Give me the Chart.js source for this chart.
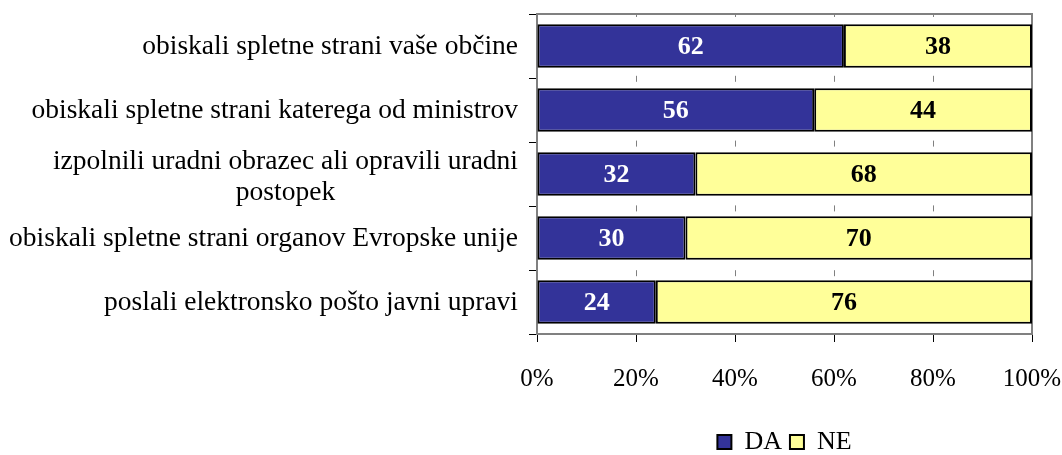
<!DOCTYPE html>
<html>
<head>
<meta charset="utf-8">
<script src="https://cdn.jsdelivr.net/npm/chart.js@4.4.1/dist/chart.umd.min.js"></script>
<style>
  html, body { margin: 0; padding: 0; background: #fff; }
  #wrap { width: 1062px; height: 455px; }
</style>
</head>
<body>
<div id="wrap"><canvas id="chart" width="1062" height="455"></canvas></div>
<script>
// podatki
var kategorije = [
  'obiskali spletne strani vaše občine',
  'obiskali spletne strani katerega od ministrov',
  ['izpolnili uradni obrazec ali opravili uradni', 'postopek'],
  'obiskali spletne strani organov Evropske unije',
  'poslali elektronsko pošto javni upravi'
]
var vrednostiDA = [62, 56, 32, 30, 24]
var vrednostiNE = [38, 44, 68, 70, 76]
var oznakeX = ['0%', '20%', '40%', '60%', '80%', '100%']

var pisava = "'Liberation Serif', 'Times New Roman', serif"
var siva = '#808080'

// napisi kategorij levo od osi (druga vrstica sredinsko)
var napisiY = {
  id: 'napisiY',
  afterDraw: function(chart){
    var c = chart.ctx
    var y = chart.scales.y
    c.save()
    c.font = '27.5px ' + pisava
    c.fillStyle = '#000'
    c.textBaseline = 'middle'
    c.textAlign = 'center'
    kategorije.forEach(function(lab, i){
      var vrstice = Array.isArray(lab) ? lab : [lab]
      var maxw = 0
      vrstice.forEach(function(v){ maxw = Math.max(maxw, c.measureText(v).width) })
      var cx = chart.chartArea.left - 19 - maxw / 2
      var cy = y.getPixelForValue(i) + 1
      var lh = 31
      var y0 = cy - (vrstice.length - 1) * lh / 2
      if (vrstice.length > 1) y0 += 2
      vrstice.forEach(function(v, k){ c.fillText(v, cx, y0 + k * lh) })
    })
    c.restore()
  }
}

// vrednosti na stolpcih + okvir
var vrednostiNaStolpcih = {
  id: 'vrednostiNaStolpcih',
  beforeDatasetsDraw: function(chart){
    var a = chart.chartArea
    var c = chart.ctx
    c.save()
    c.strokeStyle = siva
    c.lineWidth = 2
    c.beginPath()
    c.moveTo(a.left, a.top)
    c.lineTo(a.right, a.top)
    c.lineTo(a.right, a.bottom)
    c.stroke()
    c.restore()
  },
  afterDatasetsDraw: function(chart){
    var c = chart.ctx
    c.save()
    c.font = 'bold 26px ' + pisava
    c.textAlign = 'center'
    c.textBaseline = 'middle'
    chart.data.datasets.forEach(function(ds, di){
      var meta = chart.getDatasetMeta(di)
      meta.data.forEach(function(bar, i){
        c.fillStyle = di === 0 ? '#fff' : '#000'
        c.fillText(ds.data[i], (bar.x + bar.base) / 2, bar.y + 1)
      })
    })
    c.restore()
  }
}

var ctx = document.getElementById('chart')
var ReportChart = new Chart(ctx, {
  type: 'bar',
  data: {
    labels: kategorije,
    datasets: [
      { label: 'DA', data: vrednostiDA, backgroundColor: '#333399', borderColor: '#000', borderWidth: 2, borderSkipped: false },
      { label: 'NE', data: vrednostiNE, backgroundColor: '#FFFF99', borderColor: '#000', borderWidth: 2, borderSkipped: false }
    ]
  },
  options: {
    indexAxis: 'y',
    responsive: false,
    animation: false,
    devicePixelRatio: 1,
    layout: { padding: { top: 14, right: 30, bottom: -10 } },
    barPercentage: 0.68,
    categoryPercentage: 1,
    scales: {
      x: {
        stacked: true,
        min: 0,
        max: 100,
        ticks: {
          stepSize: 20,
          padding: 22,
          color: '#000',
          font: { family: pisava, size: 25 },
          callback: function(v, i){ return oznakeX[i] }
        },
        grid: {
          color: siva,
          lineWidth: 1,
          tickLength: 8,
          tickColor: '#000',
          drawOnChartArea: true
        },
        border: { color: siva, width: 2, dash: [6, 58.8], dashOffset: 3 },
        afterFit: function(s){ s.height = 87; s.paddingRight = 0 }
      },
      y: {
        stacked: true,
        ticks: { callback: function(){ return '' } },
        grid: { drawOnChartArea: false, tickLength: 8, tickColor: '#000', offset: true },
        border: { color: siva, width: 2 },
        afterFit: function(s){ s.width = 537 }
      }
    },
    plugins: {
      tooltip: { enabled: false },
      legend: {
        position: 'bottom',
        fullSize: false,
        labels: {
          color: '#000',
          font: { family: pisava, size: 26 },
          boxWidth: 14,
          boxHeight: 14,
          padding: 8
        }
      }
    }
  },
  plugins: [napisiY, vrednostiNaStolpcih]
})
</script>
</body>
</html>
